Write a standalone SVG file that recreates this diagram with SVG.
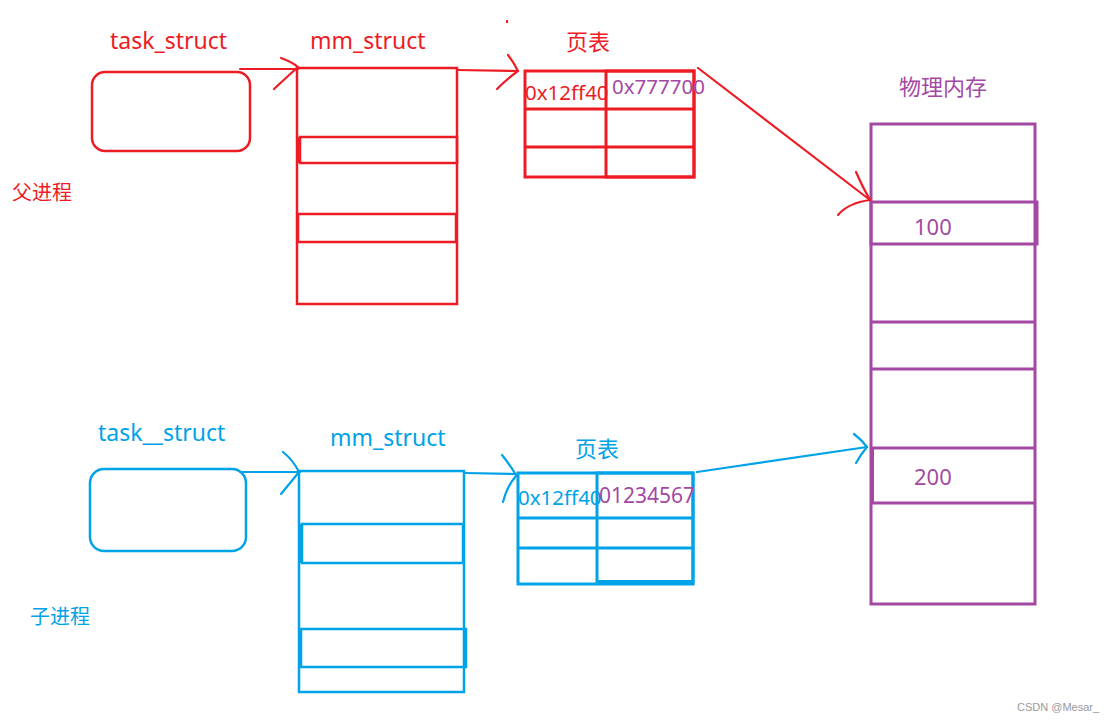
<svg xmlns="http://www.w3.org/2000/svg" width="1114" height="723" viewBox="0 0 1114 723">
<style>
.r{stroke:#ED1C24;fill:none}
.b{stroke:#00A2E8;fill:none}
.p{stroke:#A349A4;fill:none}
.t{font-family:"Noto Sans","Noto Sans CJK SC",sans-serif}
.cjk{font-family:"Noto Sans CJK SC","Noto Sans",sans-serif}
.fr{fill:#ED1C24}
.fb{fill:#00A2E8}
.fp{fill:#A349A4}
</style>
<rect width="1114" height="723" fill="#fff"/>

<!-- Labels -->
<g id="labels">
<text class="t fr" x="110" y="49" font-size="23">task_struct</text>
<text class="t fr" x="310" y="49" font-size="23">mm_struct</text>
<text class="cjk fr" x="566" y="50" font-size="22">页表</text>
<text class="cjk fr" x="12" y="200" font-size="20">父进程</text>
<text class="t fb" x="98" y="441" font-size="23">task__struct</text>
<text class="t fb" x="330" y="446" font-size="23">mm_struct</text>
<text class="cjk fb" x="575" y="457" font-size="22">页表</text>
<text class="cjk fb" x="30" y="624" font-size="20">子进程</text>
<text class="cjk fp" x="899" y="95" font-size="22">物理内存</text>
<text x="1017" y="711" font-size="11" fill="#999" font-family="Liberation Sans, sans-serif">CSDN @Mesar_</text>
<rect x="506" y="20" width="2" height="3" fill="#ED1C24"/>
</g>

<!-- Parent task_struct -->
<g id="parent-task">
<rect class="r" x="92" y="72" width="158" height="79" rx="13" stroke-width="2.5"/>
</g>

<!-- Parent mm_struct -->
<g id="parent-mm" class="r" stroke-width="2.5">
<rect x="297" y="68" width="160" height="236"/>
<rect x="300" y="137" width="157" height="26"/>
<line x1="299" y1="137" x2="299" y2="163" stroke-width="4"/>
<rect x="298" y="214" width="158" height="28"/>
</g>

<!-- Parent page table -->
<g id="parent-pt">
<g class="r" stroke-width="3">
<rect x="525" y="71" width="169" height="106"/>
<rect x="606" y="71" width="88" height="106"/>
<line x1="525" y1="109" x2="694" y2="109"/>
<line x1="525" y1="147" x2="694" y2="147"/>
</g>
<text class="t fr" x="525" y="100" font-size="20.5">0x12ff40</text>
<text class="t fp" x="612" y="94" font-size="20.5">0x777700</text>
</g>

<!-- Child task_struct -->
<g id="child-task">
<rect class="b" x="90" y="469" width="156" height="82" rx="14" stroke-width="2.5"/>
</g>

<!-- Child mm_struct -->
<g id="child-mm" class="b" stroke-width="2.5">
<rect x="299" y="471" width="165" height="221"/>
<rect x="302" y="524" width="161" height="39"/>
<line x1="301" y1="524" x2="301" y2="563" stroke-width="4"/>
<rect x="301" y="629" width="165" height="38"/>
</g>

<!-- Child page table -->
<g id="child-pt">
<g class="b" stroke-width="3">
<rect x="518" y="473" width="175" height="111"/>
<rect x="597" y="473" width="96" height="109"/>
<line x1="518" y1="518" x2="693" y2="518"/>
<line x1="518" y1="548" x2="693" y2="548"/>
<line x1="597" y1="582" x2="693" y2="582" stroke-width="4"/>
</g>
<text class="t fb" x="518" y="505" font-size="20.5">0x12ff40</text>
<text class="t fp" x="599" y="503" font-size="21">01234567</text>
</g>

<!-- Physical memory -->
<g id="phys-mem">
<g class="p" stroke-width="3">
<rect x="871" y="124" width="164" height="480"/>
<rect x="871" y="202" width="166" height="42"/>
<line x1="871" y1="322" x2="1035" y2="322"/>
<line x1="871" y1="369" x2="1035" y2="369"/>
<line x1="871" y1="448" x2="1035" y2="448"/>
<line x1="871" y1="503" x2="1035" y2="503"/>
<line x1="872" y1="448" x2="872" y2="503" stroke-width="4"/>
</g>
<text class="t fp" x="914" y="235" font-size="22">100</text>
<text class="t fp" x="914" y="485" font-size="22">200</text>
</g>

<!-- Connectors -->
<g id="connectors" stroke-linecap="round" stroke-linejoin="round">
<g class="r" stroke-width="2.2">
<line x1="240" y1="69" x2="298" y2="69"/>
<path d="M281 58 Q292 62 298 67 M274 89 Q288 76 298 67"/>
<line x1="457" y1="70" x2="518" y2="71"/>
<path d="M508 55 Q514 63 518 71 M497 89 Q508 78 518 71"/>
<line x1="698" y1="68" x2="870" y2="200"/>
<path d="M856 172 Q862 186 870 200 M838 215 Q848 203 870 200"/>
</g>
<g class="b" stroke-width="2.2">
<line x1="240" y1="472" x2="300" y2="472"/>
<path d="M283 452 Q293 460 299 472 M281 494 Q291 482 299 472"/>
<line x1="464" y1="473" x2="516" y2="474"/>
<path d="M502 455 Q510 465 516 475 M503 502 Q507 486 516 476"/>
<line x1="697" y1="472" x2="867" y2="447"/>
<path d="M854 434 Q862 440 867 447 M856 463 Q861 454 867 447"/>
</g>
</g>
</svg>
